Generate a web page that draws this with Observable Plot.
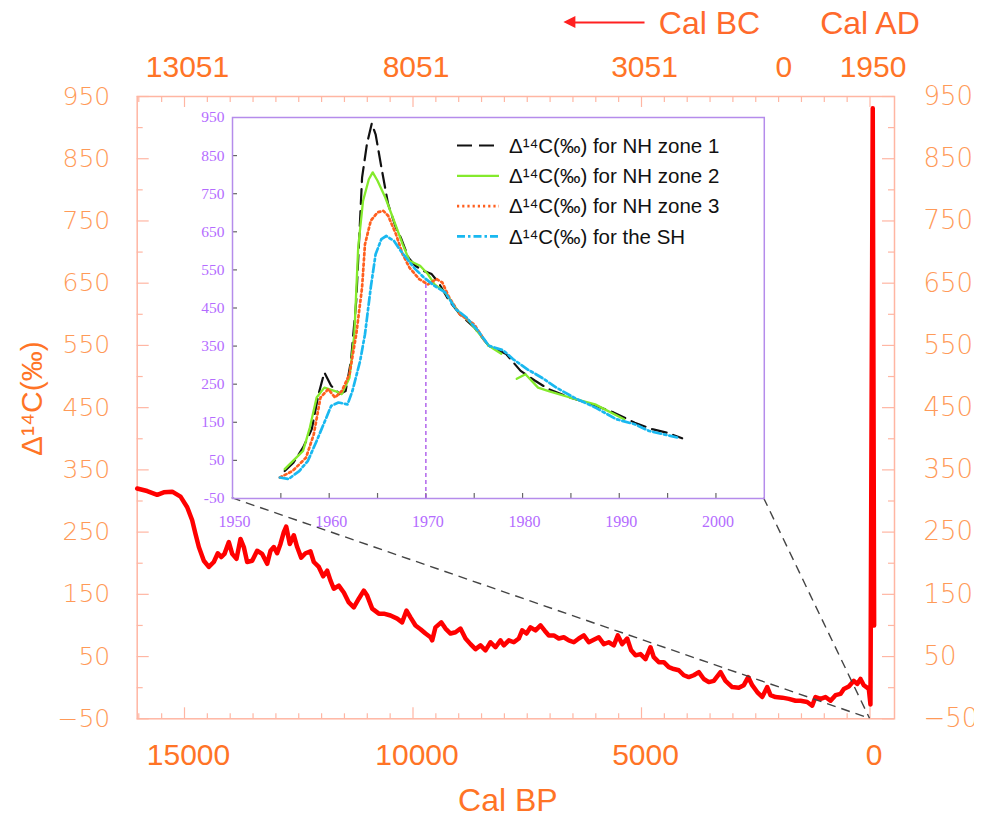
<!DOCTYPE html>
<html>
<head>
<meta charset="utf-8">
<script src="https://cdn.jsdelivr.net/npm/d3@7"></script>
<script src="https://cdn.jsdelivr.net/npm/@observablehq/plot@0.6"></script>
<style>
  body { margin: 0; background: #fff; }
  #wrap { position: relative; width: 974px; height: 819px; overflow: hidden; background: #fff; }
  #wrap svg.inset { position: absolute; }
</style>
</head>
<body>
<div id="wrap"></div>
<script>
// ---------------- Main record (Cal BP vs Δ14C ‰) ----------------
const mainBP = [16035,15816,15597,15453,15269,15087,14941,14832,14759,14686,14577,14468,14359,14271,14197,14125,14030,13956,13862,13775,13702,13629,13519,13410,13300,13191,13118,13046,12973,12900,12827,12775,12696,12608,12535,12447,12352,12243,12170,12061,11965,11878,11805,11733,11624,11514,11405,11295,11186,11077,11003,10893,10748,10639,10492,10346,10237,10142,10055,9945,9836,9726,9617,9580,9508,9383,9289,9179,9070,8961,8851,8742,8632,8523,8414,8304,8195,8085,8013,7903,7794,7685,7611,7516,7429,7319,7210,7122,7028,6919,6810,6700,6591,6481,6372,6263,6153,6044,5934,5825,5716,5606,5518,5422,5313,5226,5131,5022,4912,4803,4731,4621,4512,4403,4293,4184,4074,3965,3856,3746,3637,3527,3418,3271,3162,3016,2871,2761,2665,2578,2468,2359,2249,2177,2068,1921,1776,1630,1521,1374,1265,1193,1083,974,864,755,646,573,464,354,280,208,136,26,-10,-60,-90];
const mainD14C = [320,316,310,314,315,307,290,269,247,226,204,194,202,216,210,215,234,215,207,239,226,202,204,220,215,199,220,226,216,231,250,259,231,245,226,209,216,219,202,194,179,188,172,159,164,153,137,129,143,156,148,127,119,119,116,111,105,124,113,100,94,87,81,76,97,105,95,87,89,95,79,70,62,68,60,73,65,76,68,76,73,79,92,87,97,92,100,92,84,84,79,81,76,73,79,84,73,77,81,70,73,68,84,70,79,60,52,54,46,65,49,41,41,33,30,28,20,17,20,25,14,9,11,25,11,1,0,4,17,4,-7,-15,1,-12,-15,-16,-18,-21,-21,-23,-29,-15,-18,-15,-21,-12,-10,-2,2,11,6,14,4,-2,-27,931,100];

// ---------------- Inset (bomb-pulse curves, AD years) ----------------
const nh1Year = [1955.4,1956.3,1957.3,1958.2,1958.9,1959.5,1960.2,1961.1,1961.7,1962.25,1962.8,1963.4,1963.9,1964.4,1964.8,1965.4,1966.1,1966.9,1967.4,1968.2,1968.9,1969.8,1970.6,1971.3,1972.4,1973.5,1975.0,1976.5,1978.3,1979.8,1981.3,1982.7,1984.9,1987.2,1989.4,1991.6,1993.4,1994.9,1996.5];
const nh1Value = [22,44,84,132,224,281,246,224,232,311,469,792,880,934,906,819,722,661,635,582,561,547,539,517,469,434,399,351,329,285,259,237,215,197,176,149,132,123,108];

const nh2Year = [1955.4,1957.3,1958.0,1958.7,1959.5,1960.6,1961.3,1962.1,1962.6,1963.0,1963.5,1964.1,1964.5,1965.0,1965.8,1966.7,1967.6,1968.3,1969.4,1970.2,1970.9,1972.0,1973.3,1974.6,1976.5,1977.8,1978.6,1979.4,1980.3,1981.6,1982.7,1984.9,1987.5,1990.5];
const nh2Value = [27,75,136,215,241,232,224,267,381,609,731,788,806,784,740,679,617,574,561,539,512,491,442,412,351,330,null,264,276,241,232,215,197,158];

const nh3Year = [1954.9,1956.2,1957.6,1958.4,1959.1,1959.9,1960.6,1961.3,1962.1,1962.8,1963.4,1963.7,1964.3,1965.0,1965.6,1966.1,1966.9,1967.6,1968.3,1969.3,1970.2,1971.1,1971.7,1972.4,1973.5,1975.0,1976.1];
const nh3Value = [5,22,57,118,215,237,215,232,276,381,504,617,679,701,705,692,644,591,556,526,512,526,517,478,434,407,364];

const shYear = [1954.9,1955.8,1956.9,1957.8,1958.7,1959.7,1960.2,1960.96,1961.9,1962.4,1963.2,1963.7,1964.3,1964.8,1965.4,1965.9,1966.7,1967.4,1968.2,1968.9,1969.8,1970.9,1972.0,1973.1,1974.2,1975.4,1976.5,1978.0,1979.0,1980.5,1982.0,1983.5,1985.3,1987.5,1989.7,1991.6,1993.1,1994.5,1996.0];
const shValue = [5,1,22,49,101,162,193,202,197,232,311,381,504,591,631,639,626,600,574,552,530,508,491,447,425,390,351,339,316,289,267,241,215,189,158,145,127,119,110];

const legendLabels = ["Δ¹⁴C(‰) for NH zone 1","Δ¹⁴C(‰) for NH zone 2","Δ¹⁴C(‰) for NH zone 3","Δ¹⁴C(‰) for the SH"];

// ---------------- Tick labels ----------------
const xTickBP = [15000, 10000, 5000, 0];
const xTickLabels = ["15000", "10000", "5000", "0"];
const topTickBP = [15000, 10000, 5000, 1950, 0];
const topTickLabels = ["13051", "8051", "3051", "0", "1950"];
const yTickVals = [950, 850, 750, 650, 550, 450, 350, 250, 150, 50, -50];
const yTickLabels = ["950","850","750","650","550","450","350","250","150","50","−50"];
const insetXTicks = [1950, 1960, 1970, 1980, 1990, 2000];
const insetYTicks = [950, 850, 750, 650, 550, 450, 350, 250, 150, 50, -50];
const insetYLabels = ["950","850","750","650","550","450","350","250","150","50","-50"];
const markYear = 1970, markValue = 521;

// ---------------- Layout ----------------
const W = 974, H = 819;
const M = {top: 96, right: 80, bottom: 100.7, left: 136.7};
const xDomain = [16035, -536], yDomain = [-50, 950];
const kx = (W - M.left - M.right) / (xDomain[0] - xDomain[1]);
const ky = (H - M.top - M.bottom) / (yDomain[1] - yDomain[0]);
const frameColor = "#ffb6a3";
const axisOrange = "#ff7426";
const lightOrange = "#ff9a58";
const SANS = "Liberation Sans, Arial, sans-serif";

const minorX = d3.range(0, 16001, 500).filter(d => d % 5000 !== 0);
const majorX = d3.range(0, 16001, 5000);
const minorY = d3.range(0, 901, 100);
const majorY = yTickVals;

const tickBottom = (vals, len) => Plot.ruleX(vals, {x: d => d, y1: yDomain[0], y2: yDomain[0] + len / ky, stroke: frameColor, strokeWidth: 1.2});
const tickTop = (vals, len) => Plot.ruleX(vals, {x: d => d, y1: yDomain[1], y2: yDomain[1] - len / ky, stroke: frameColor, strokeWidth: 1.2});
const tickLeft = (vals, len) => Plot.ruleY(vals, {y: d => d, x1: xDomain[0], x2: xDomain[0] - len / kx, stroke: frameColor, strokeWidth: 1.2});
const tickRight = (vals, len) => Plot.ruleY(vals, {y: d => d, x1: xDomain[1], x2: xDomain[1] + len / kx, stroke: frameColor, strokeWidth: 1.2});

const mainData = mainBP.map((bp, i) => ({bp, v: mainD14C[i]}));
const arrowY = yDomain[1] + (M.top - 22) / ky;
const arrowFromBP = 4934, arrowToBP = 6480;

const main = Plot.plot({
  width: W, height: H,
  marginTop: M.top, marginRight: M.right, marginBottom: M.bottom, marginLeft: M.left,
  x: {domain: xDomain, axis: null},
  y: {domain: yDomain, axis: null},
  style: {background: "white", fontFamily: SANS},
  marks: [
    tickBottom(minorX, 5), tickBottom(majorX, 11),
    tickTop(minorX, 6), tickTop(majorX, 11),
    tickLeft(minorY, 6), tickLeft(majorY, 12),
    tickRight(minorY, 6), tickRight(majorY, 12),
    Plot.frame({stroke: frameColor, strokeWidth: 1.5}),
    Plot.line(mainData, {x: "bp", y: "v", stroke: "#ff0000", strokeWidth: 4.5, strokeLinejoin: "round", strokeLinecap: "round"}),
    // bottom axis labels
    Plot.text(xTickBP, {x: d => d, text: (d, i) => xTickLabels[i], frameAnchor: "bottom", dy: 25, dx: 4, lineAnchor: "top", fontSize: 30, fill: axisOrange, fontFamily: SANS}),
    // top axis labels (Cal BC / AD)
    Plot.text(topTickBP, {x: d => d, text: (d, i) => topTickLabels[i], frameAnchor: "top", dy: -20, dx: 3, lineAnchor: "bottom", fontSize: 30, fill: axisOrange, fontFamily: SANS}),
    // left / right y labels
    Plot.text(yTickVals, {y: d => d, text: (d, i) => yTickLabels[i], frameAnchor: "left", dx: -27, textAnchor: "end", lineAnchor: "middle", fontSize: 25, fontFamily: "DejaVu Sans, sans-serif", fontWeight: 200, fill: lightOrange}),
    Plot.text(yTickVals, {y: d => d, text: (d, i) => yTickLabels[i], frameAnchor: "right", dx: 29, textAnchor: "start", lineAnchor: "middle", fontSize: 26, fontFamily: "DejaVu Sans, sans-serif", fontWeight: 200, fill: lightOrange}),
    // axis titles
    Plot.text(["Cal BP"], {text: d => d, frameAnchor: "bottom", textAnchor: "middle", dx: -8, dy: 92, lineAnchor: "bottom", fontSize: 32, fill: axisOrange, fontFamily: SANS}),
    Plot.text(["Δ¹⁴C(‰)"], {text: d => d, frameAnchor: "left", textAnchor: "middle", lineAnchor: "middle", dx: -105, dy: -9, rotate: -90, fontSize: 30, fill: axisOrange, fontFamily: SANS}),
    Plot.text(["Cal BC"], {text: d => d, x: 3512, frameAnchor: "top", dy: -63, lineAnchor: "bottom", fontSize: 32, fill: "#ff6a2c", fontFamily: SANS}),
    Plot.text(["Cal AD"], {text: d => d, x: 0, frameAnchor: "top", dy: -63, lineAnchor: "bottom", fontSize: 32, fill: "#ff6a2c", fontFamily: SANS}),
    Plot.link([0], {x1: arrowFromBP, x2: arrowToBP, y1: arrowY, y2: arrowY, stroke: "#ff2020", strokeWidth: 2.2})
  ]
});

const wrap = document.getElementById("wrap");
wrap.appendChild(main);

const sx = main.scale("x"), sy = main.scale("y");
// filled arrow head (Cal BC direction)
{
  const hx = sx.apply(arrowToBP), hy = sy.apply(arrowY);
  d3.select(main).append("path")
    .attr("d", `M${hx - 10},${hy} L${hx + 2},${hy - 6} L${hx + 2},${hy + 6} Z`)
    .attr("fill", "#ff2020");
}

// ---------------- Inset ----------------
const IF = {left: 231.7, right: 763.5, top: 116.7, bottom: 497.7};
const im = {top: 10, right: 14, bottom: 40, left: 42};
const iW = IF.right - IF.left + im.left + im.right;
const iH = IF.bottom - IF.top + im.top + im.bottom;
const iXDomain = [1950, 2005], iYDomain = [-50, 950];
const ikx = (IF.right - IF.left) / (iXDomain[1] - iXDomain[0]);
const iky = (IF.bottom - IF.top) / (iYDomain[1] - iYDomain[0]);
const purple = "#b46cff";
const insetFrame = "#b58ceb";
const SERIF = "Liberation Serif, Times New Roman, serif";

const styles = [
  {stroke: "#111111", strokeDasharray: "15,7", strokeWidth: 2.2},
  {stroke: "#84ea2c", strokeDasharray: null, strokeWidth: 2.3},
  {stroke: "#ff5f1f", strokeDasharray: "2.2,3", strokeWidth: 2.7},
  {stroke: "#19b8f0", strokeDasharray: "8,3,2.5,3", strokeWidth: 2.7}
];
const seriesData = [
  nh1Year.map((y, i) => ({y, v: nh1Value[i]})),
  nh2Year.map((y, i) => ({y, v: nh2Value[i]})),
  nh3Year.map((y, i) => ({y, v: nh3Value[i]})),
  shYear.map((y, i) => ({y, v: shValue[i]}))
];

const insetPlot = Plot.plot({
  width: iW, height: iH,
  marginTop: im.top, marginRight: im.right, marginBottom: im.bottom, marginLeft: im.left,
  x: {domain: iXDomain, axis: null},
  y: {domain: iYDomain, axis: null},
  style: {background: "transparent", overflow: "visible"},
  marks: [
    Plot.ruleX(d3.range(1955, 2001, 5), {x: d => d, y1: iYDomain[0], y2: iYDomain[0] + 5 / iky, stroke: "#666", strokeWidth: 1.2}),
    Plot.ruleY(d3.range(50, 851, 100), {y: d => d, x1: iXDomain[0], x2: iXDomain[0] + 5 / ikx, stroke: "#666", strokeWidth: 1.2}),
    Plot.ruleX([markYear], {x: d => d, y1: iYDomain[0], y2: markValue, stroke: "#a64ee8", strokeWidth: 1.3, strokeDasharray: "4,3"}),
    ...seriesData.map((data, i) => Plot.line(data, {x: "y", y: "v", ...styles[i], strokeLinejoin: "round"})),
    Plot.frame({stroke: insetFrame, strokeWidth: 1.5}),
    Plot.text(insetYTicks, {y: d => d, text: (d, i) => insetYLabels[i], frameAnchor: "left", dx: -8, textAnchor: "end", lineAnchor: "middle", fontSize: 15.5, fill: purple, fontFamily: SERIF}),
    Plot.text(insetXTicks, {x: d => d, text: d => String(d), frameAnchor: "bottom", textAnchor: "middle", dy: 17, dx: 2, lineAnchor: "top", fontSize: 16, fill: purple, fontFamily: SERIF})
  ]
});
insetPlot.classList.add("inset");
insetPlot.style.left = (IF.left - im.left) + "px";
insetPlot.style.top = (IF.top - im.top) + "px";
wrap.appendChild(insetPlot);

// legend inside the inset (pixel layout relative to inset frame)
const lg = d3.select(insetPlot).append("g");
const legX1 = im.left + 225, legX2 = im.left + 267, legTextX = im.left + 277, legY0 = im.top + 28.5, legDY = 30.3;
legendLabels.forEach((lab, i) => {
  const yy = legY0 + i * legDY;
  lg.append("line").attr("x1", legX1).attr("x2", legX2).attr("y1", yy).attr("y2", yy)
    .attr("stroke", styles[i].stroke).attr("stroke-width", styles[i].strokeWidth)
    .attr("stroke-dasharray", styles[i].strokeDasharray);
  lg.append("text").attr("x", legTextX).attr("y", yy).attr("dy", "0.36em")
    .attr("text-anchor", "start")
    .attr("font-family", SANS).attr("font-size", 20.5).attr("fill", "#111").text(lab);
});

// connector lines from inset corners to (0 BP, -50 ‰) in the main chart
const tx = sx.apply(0), ty = sy.apply(-50);
d3.select(main).append("g").selectAll("line").data([IF.left, IF.right]).join("line")
  .attr("x1", d => d).attr("y1", IF.bottom).attr("x2", tx).attr("y2", ty)
  .attr("stroke", "#444").attr("stroke-width", 1.4).attr("stroke-dasharray", "9,6");
</script>
</body>
</html>
